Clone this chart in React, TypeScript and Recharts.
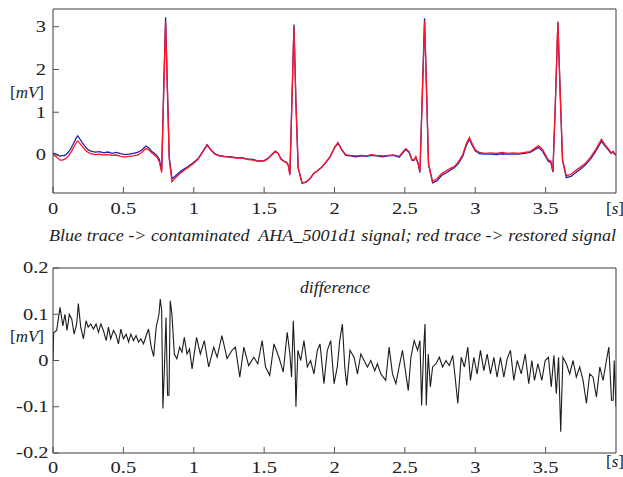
import React from "react";
import { LineChart, Line, XAxis, YAxis } from "recharts";

// time axis (s) for the top traces
const topTime = [
  0, 0.015, 0.03, 0.05, 0.065, 0.08, 0.095, 0.11, 0.13, 0.15,
  0.165, 0.176, 0.19, 0.21, 0.23, 0.25, 0.27, 0.3, 0.33, 0.36,
  0.39, 0.42, 0.45, 0.48, 0.51, 0.54, 0.57, 0.6, 0.63, 0.66,
  0.68, 0.7, 0.72, 0.74, 0.755, 0.772, 0.786, 0.8, 0.812, 0.826,
  0.845, 0.87, 0.9, 0.93, 0.96, 1.0, 1.03, 1.06, 1.095, 1.12,
  1.15, 1.18, 1.22, 1.26, 1.3, 1.34, 1.38, 1.42, 1.46, 1.5,
  1.53, 1.56, 1.58, 1.6, 1.62, 1.64, 1.66, 1.672, 1.683, 1.698,
  1.712, 1.726, 1.742, 1.77, 1.8, 1.83, 1.855, 1.88, 1.91, 1.94,
  1.97, 2.0, 2.025, 2.05, 2.08, 2.11, 2.15, 2.19, 2.23, 2.26,
  2.3, 2.34, 2.38, 2.42, 2.46, 2.48, 2.507, 2.53, 2.55, 2.565,
  2.578, 2.595, 2.607, 2.624, 2.64, 2.654, 2.668, 2.697, 2.73, 2.76,
  2.8, 2.83, 2.851, 2.88, 2.91, 2.935, 2.958, 2.98, 3.0, 3.03,
  3.07, 3.11, 3.15, 3.19, 3.23, 3.27, 3.31, 3.35, 3.39, 3.42,
  3.45, 3.48, 3.5, 3.52, 3.537, 3.552, 3.57, 3.587, 3.604, 3.62,
  3.647, 3.68, 3.71, 3.74, 3.78, 3.82, 3.86, 3.896, 3.92, 3.945,
  3.965, 3.98, 3.99, 4.0,
];

// red trace: restored signal (mV)
const restored = [
  0.02, -0.02, -0.06, -0.12, -0.12, -0.1, -0.07, -0.02, 0.08, 0.2,
  0.29, 0.33, 0.28, 0.19, 0.11, 0.06, 0.03, 0.01, 0.02, 0.0,
  0.01, -0.01, 0.0, -0.03, -0.05, -0.03, -0.02, 0.0, 0.06, 0.15,
  0.12, 0.05, 0.0, -0.06, -0.15, -0.41, 1.4, 3.12, 1.6, -0.1,
  -0.62, -0.53, -0.44, -0.36, -0.29, -0.19, -0.1, 0.05, 0.23, 0.12,
  0.02, -0.02, -0.04, -0.05, -0.07, -0.07, -0.1, -0.12, -0.15, -0.14,
  -0.08, 0.02, 0.08, 0.03, -0.1, -0.15, -0.18, -0.25, -0.47, 1.3,
  2.98, 1.2, -0.3, -0.66, -0.63, -0.53, -0.42, -0.37, -0.28, -0.16,
  -0.03, 0.18, 0.29, 0.14, 0.01, -0.01, -0.02, -0.01, -0.02, 0.01,
  -0.01, -0.02, -0.01, 0.0, -0.03, 0.05, 0.15, 0.08, -0.1, -0.12,
  -0.04, -0.2, -0.39, 1.4, 3.13, 1.5, -0.2, -0.62, -0.55, -0.44,
  -0.36, -0.3, -0.27, -0.16, 0.0, 0.25, 0.41, 0.25, 0.12, 0.06,
  0.04, 0.05, 0.04, 0.06, 0.04, 0.05, 0.04, 0.06, 0.08, 0.15,
  0.22, 0.12, 0.0, -0.12, -0.14, -0.37, 1.3, 3.12, 1.4, -0.1,
  -0.49, -0.45, -0.37, -0.3, -0.2, -0.05, 0.15, 0.37, 0.25, 0.15,
  0.05, 0.09, 0.03, 0.01,
];

// blue trace: contaminated AHA_5001d1 signal (mV)
const contaminated = [
  0.04, 0.03, 0.01, -0.03, -0.01, -0.02, 0.02, 0.07, 0.17, 0.3,
  0.4, 0.45, 0.38, 0.28, 0.19, 0.12, 0.09, 0.07, 0.08, 0.05,
  0.07, 0.04, 0.06, 0.03, 0.01, 0.02, 0.04, 0.06, 0.11, 0.21,
  0.17, 0.09, 0.04, -0.02, -0.1, -0.36, 1.5, 3.22, 1.65, -0.05,
  -0.55, -0.49, -0.4, -0.33, -0.27, -0.17, -0.09, 0.06, 0.24, 0.13,
  0.03, -0.01, -0.03, -0.04, -0.06, -0.06, -0.09, -0.1, -0.14, -0.13,
  -0.07, 0.03, 0.09, 0.04, -0.09, -0.14, -0.17, -0.24, -0.45, 1.35,
  3.05, 1.22, -0.3, -0.66, -0.63, -0.54, -0.42, -0.37, -0.28, -0.17,
  -0.04, 0.17, 0.28, 0.13, -0.01, -0.02, -0.04, -0.02, -0.03, -0.01,
  -0.02, -0.04, -0.02, -0.01, -0.05, 0.03, 0.13, 0.06, -0.12, -0.13,
  -0.05, -0.22, -0.41, 1.45, 3.2, 1.5, -0.22, -0.65, -0.6, -0.48,
  -0.41, -0.34, -0.3, -0.2, -0.04, 0.21, 0.37, 0.22, 0.1, 0.03,
  0.02, 0.02, 0.01, 0.03, 0.02, 0.02, 0.02, 0.04, 0.06, 0.12,
  0.18, 0.08, -0.04, -0.15, -0.17, -0.4, 1.3, 3.1, 1.4, -0.12,
  -0.53, -0.5, -0.42, -0.35, -0.24, -0.09, 0.11, 0.32, 0.22, 0.12,
  0.04, 0.07, 0.02, 0.0,
];

// difference trace
const diffTime = [
  0, 0.005, 0.026, 0.05, 0.07, 0.085, 0.1, 0.116, 0.133, 0.15,
  0.168, 0.18, 0.197, 0.216, 0.235, 0.25, 0.268, 0.287, 0.306, 0.323,
  0.34, 0.358, 0.378, 0.394, 0.41, 0.43, 0.449, 0.465, 0.482, 0.5,
  0.52, 0.537, 0.553, 0.572, 0.59, 0.608, 0.624, 0.643, 0.662, 0.679,
  0.698, 0.715, 0.733, 0.753, 0.762, 0.772, 0.781, 0.79, 0.803, 0.814,
  0.824, 0.833, 0.845, 0.862, 0.88, 0.9, 0.916, 0.933, 0.952, 0.97,
  0.988, 1.02, 1.047, 1.075, 1.106, 1.142, 1.166, 1.2, 1.237, 1.272,
  1.296, 1.327, 1.356, 1.39, 1.427, 1.455, 1.486, 1.51, 1.54, 1.57,
  1.605, 1.636, 1.664, 1.683, 1.695, 1.707, 1.719, 1.726, 1.74, 1.76,
  1.783, 1.807, 1.83, 1.854, 1.878, 1.897, 1.925, 1.949, 1.973, 1.997,
  2.02, 2.037, 2.056, 2.073, 2.087, 2.11, 2.139, 2.163, 2.187, 2.21,
  2.234, 2.258, 2.286, 2.305, 2.329, 2.364, 2.388, 2.412, 2.436, 2.459,
  2.483, 2.507, 2.524, 2.543, 2.566, 2.59, 2.607, 2.619, 2.633, 2.643,
  2.652, 2.666, 2.681, 2.697, 2.721, 2.745, 2.768, 2.792, 2.816, 2.84,
  2.857, 2.876, 2.9, 2.923, 2.947, 2.966, 2.99, 3.013, 3.037, 3.061,
  3.085, 3.108, 3.132, 3.155, 3.179, 3.203, 3.227, 3.25, 3.274, 3.298,
  3.327, 3.355, 3.38, 3.402, 3.421, 3.445, 3.473, 3.497, 3.52, 3.54,
  3.559, 3.576, 3.592, 3.607, 3.623, 3.647, 3.671, 3.695, 3.718, 3.742,
  3.766, 3.79, 3.813, 3.837, 3.861, 3.885, 3.908, 3.932, 3.949, 3.968,
  3.98, 3.987, 4.0,
];

const diffValues = [
  0, 0.06, 0.065, 0.115, 0.075, 0.1, 0.065, 0.1, 0.09, 0.057,
  0.079, 0.123, 0.072, 0.047, 0.086, 0.072, 0.079, 0.068, 0.079, 0.061,
  0.079, 0.065, 0.043, 0.072, 0.047, 0.065, 0.054, 0.036, 0.068, 0.047,
  0.057, 0.04, 0.057, 0.043, 0.054, 0.04, 0.047, 0.036, 0.054, 0.068,
  0.029, 0.009, 0.072, 0.1, 0.133, 0.108, -0.104, -0.029, 0.093, -0.075,
  -0.075, 0.129, 0.1, 0.014, 0.004, 0.029, 0.018, 0.05, 0.014, 0.025,
  -0.018, 0.05, 0.014, 0.043, -0.014, 0.029, 0.007, 0.054, 0.004, 0.022,
  0.029, -0.036, 0.029, -0.011, 0.007, -0.007, 0.043, -0.014, -0.032, 0.036,
  0.007, -0.025, 0.061, 0.014, -0.036, 0.086, 0, -0.1, 0.022, 0,
  0.043, -0.014, 0, -0.029, 0.022, 0.036, -0.05, 0.022, 0.043, -0.05,
  -0.014, 0.043, 0.079, -0.014, -0.054, 0.022, 0.007, -0.029, 0.014, 0,
  -0.014, 0, -0.022, -0.007, -0.029, -0.043, 0.029, -0.029, -0.05, -0.014,
  0.022, -0.029, -0.065, 0.007, 0.043, 0.022, 0.043, -0.097, 0.022, 0.079,
  -0.097, 0.014, -0.057, -0.014, -0.007, 0.007, -0.014, 0, -0.011, 0.011,
  -0.036, -0.093, 0.007, -0.014, 0.029, -0.043, 0.007, -0.029, 0.022, -0.022,
  0.014, -0.029, 0.007, -0.036, 0.007, -0.036, 0.004, 0.022, -0.043, 0,
  -0.029, 0.014, -0.05, 0, -0.043, -0.007, -0.043, 0, 0.007, -0.057,
  0.011, -0.072, 0.007, -0.154, 0.007, -0.007, -0.029, 0, -0.036, -0.014,
  -0.043, -0.093, -0.029, -0.036, -0.079, -0.014, -0.043, 0, 0.029, -0.086,
  -0.086, 0, -0.1,
];

const xTicks = [0, 0.5, 1, 1.5, 2, 2.5, 3, 3.5];
const topYTicks = [0, 1, 2, 3];
const bottomYTicks = [-0.2, -0.1, 0, 0.1, 0.2];

const topRows = topTime.map((t, i) => ({ t, restored: restored[i], contaminated: contaminated[i] }));
const diffRows = diffTime.map((t, i) => ({ t, d: diffValues[i] }));

const FONT = "Liberation Serif";
const AXIS = { stroke: "#3a3a3a", strokeWidth: 1 };
const TICK = { stroke: "#555" };
const STRETCH = 1.28;

function XTick({ x, y, payload }: any) {
  return (
    <g transform={`translate(${x},${y}) scale(${STRETCH},1)`}>
      <text x={0} y={0} textAnchor="middle" style={{ fontFamily: FONT }} fontSize={16} fill="#222">
        {String(payload.value)}
      </text>
    </g>
  );
}

function YTick({ x, y, payload }: any) {
  return (
    <g transform={`translate(${x},${y}) scale(${STRETCH},1)`}>
      <text x={0} y={5.3} textAnchor="end" style={{ fontFamily: FONT }} fontSize={16} fill="#222">
        {String(payload.value)}
      </text>
    </g>
  );
}

function Unit({ x, y, label }: { x: number; y: number; label: string }) {
  return (
    <text x={x} y={y} style={{ fontFamily: FONT }} fontSize={17} fill="#222">
      [<tspan fontStyle="italic">{label}</tspan>]
    </text>
  );
}

export default function App() {
  return (
    <div style={{ position: "absolute", left: 0, top: 0, width: 623, height: 477, background: "#fff" }}>
      <div style={{ position: "absolute", left: 0, top: 0 }}>
        <LineChart width={623} height={240} data={topRows} margin={{ top: 0, right: 0, bottom: 0, left: 0 }}>
          <XAxis xAxisId="b" dataKey="t" type="number" domain={[0, 4]} allowDataOverflow ticks={xTicks}
            interval={0} height={47} tickSize={-6} tickMargin={26.5} axisLine={AXIS} tickLine={TICK} tick={<XTick />} />
          <XAxis xAxisId="t" orientation="top" dataKey="t" type="number" domain={[0, 4]} allowDataOverflow ticks={xTicks}
            interval={0} height={9} tickSize={-6} axisLine={AXIS} tickLine={TICK} tick={false} />
          <YAxis yAxisId="l" type="number" domain={[-0.888, 3.414]} allowDataOverflow ticks={topYTicks}
            interval={0} width={53} tickSize={-6} tickMargin={13} axisLine={AXIS} tickLine={TICK} tick={<YTick />} />
          <YAxis yAxisId="r" orientation="right" type="number" domain={[-0.888, 3.414]} allowDataOverflow ticks={topYTicks}
            interval={0} width={7} tickSize={-6} axisLine={AXIS} tickLine={TICK} tick={false} />
          <Line xAxisId="b" yAxisId="l" dataKey="contaminated" type="linear" stroke="#2323a8" strokeWidth={1.3}
            dot={false} isAnimationActive={false} />
          <Line xAxisId="b" yAxisId="l" dataKey="restored" type="linear" stroke="#ff1428" strokeWidth={1.3}
            dot={false} isAnimationActive={false} />
        </LineChart>
      </div>
      <div style={{ position: "absolute", left: 0, top: 240 }}>
        <LineChart width={623} height={237} data={diffRows} margin={{ top: 0, right: 0, bottom: 0, left: 0 }}>
          <XAxis xAxisId="b" dataKey="t" type="number" domain={[0, 4]} allowDataOverflow ticks={xTicks}
            interval={0} height={24} tickSize={-6} tickMargin={26} axisLine={AXIS} tickLine={TICK} tick={<XTick />} />
          <XAxis xAxisId="t" orientation="top" dataKey="t" type="number" domain={[0, 4]} allowDataOverflow ticks={xTicks}
            interval={0} height={28} tickSize={-6} axisLine={AXIS} tickLine={TICK} tick={false} />
          <YAxis yAxisId="l" type="number" domain={[-0.2, 0.2]} allowDataOverflow ticks={bottomYTicks}
            interval={0} width={53} tickSize={-6} tickMargin={10.5} axisLine={AXIS} tickLine={TICK} tick={<YTick />} />
          <YAxis yAxisId="r" orientation="right" type="number" domain={[-0.2, 0.2]} allowDataOverflow ticks={bottomYTicks}
            interval={0} width={7} tickSize={-6} axisLine={AXIS} tickLine={TICK} tick={false} />
          <Line xAxisId="b" yAxisId="l" dataKey="d" type="linear" stroke="#1c1c1c" strokeWidth={1.1}
            dot={false} isAnimationActive={false} />
        </LineChart>
      </div>
      <svg width={623} height={477} style={{ position: "absolute", left: 0, top: 0, pointerEvents: "none" }}>
        <Unit x={10} y={97.5} label="mV" />
        <Unit x={10} y={342} label="mV" />
        <Unit x={606} y={214} label="s" />
        <Unit x={606} y={466.5} label="s" />
        <text x={49} y={241} style={{ fontFamily: FONT, whiteSpace: "pre" }} fontSize={17} fontStyle="italic" fill="#222"
          textLength={567} lengthAdjust="spacingAndGlyphs">
          Blue trace -&gt; contaminated  AHA_5001d1 signal; red trace -&gt; restored signal
        </text>
        <text x={300} y={293} style={{ fontFamily: FONT }} fontSize={17} fontStyle="italic" fill="#222"
          textLength={70} lengthAdjust="spacingAndGlyphs">
          difference
        </text>
      </svg>
    </div>
  );
}
